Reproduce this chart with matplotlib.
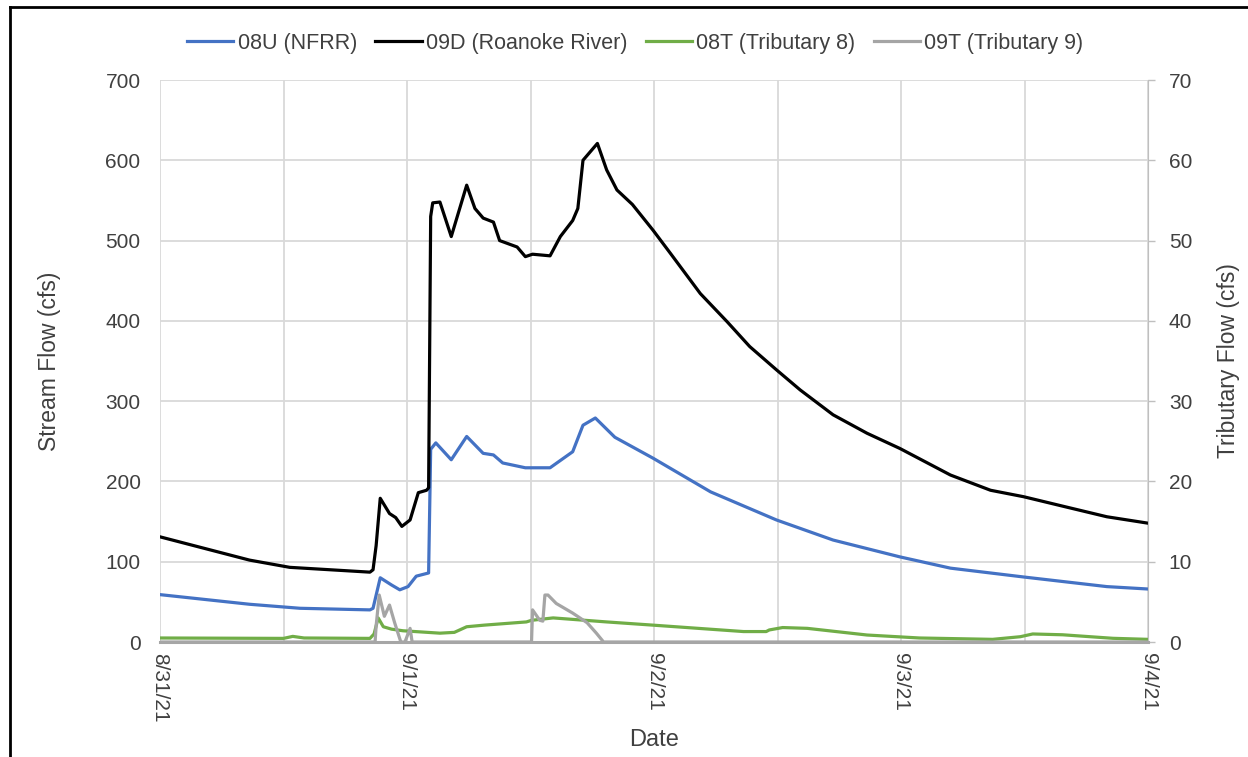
import matplotlib
matplotlib.use("Agg")
import matplotlib.pyplot as plt
from matplotlib.lines import Line2D
from matplotlib.ticker import MultipleLocator

plt.rcParams['font.family'] = ['Liberation Sans', 'DejaVu Sans']

# hours after 8/31/21 00:00 and flows
hrs_09d = [0, 3.9, 8.7, 12.6, 16.5, 20.4, 20.7, 21.0, 21.4, 22.3, 22.9, 23.5, 24.3, 25.1,
           25.9, 26.1, 26.3, 26.5, 27.2, 28.3, 29.8, 30.6, 31.4, 32.4, 33.0, 34.7, 35.5,
           36.2, 37.9, 38.9, 40.1, 40.6, 41.1, 42.1, 42.5, 43.4, 44.4, 45.9, 47.9, 49.6,
           52.5, 55.1, 57.3, 59.9, 62.2, 65.4, 68.7, 71.9, 76.8, 80.7, 83.9, 88.1, 92.0, 96]
flow_09d = [131, 118, 102, 93, 90, 87, 90, 120, 179, 160, 155, 144, 152, 186,
            189, 192, 530, 547, 548, 505, 569, 540, 528, 523, 500, 492, 480,
            483, 481, 505, 525, 540, 600, 615, 621, 588, 563, 545, 513, 484,
            434, 399, 368, 339, 314, 283, 260, 241, 208, 189, 181, 168, 156, 148]

hrs_08u = [0, 8.7, 13.6, 20.4, 20.7, 21.4, 22.5, 23.3, 24.1, 24.9, 25.8, 26.1, 26.3,
           26.8, 28.3, 29.8, 31.4, 32.4, 33.3, 35.5, 37.9, 40.1, 41.1, 42.3, 44.2,
           47.9, 53.5, 59.9, 65.4, 71.9, 76.8, 83.9, 92.0, 96]
flow_08u = [59, 47, 42, 40, 42, 80, 71, 65, 69, 82, 85, 86, 240,
            248, 227, 256, 235, 233, 223, 217, 217, 237, 270, 279, 255,
            229, 187, 152, 127, 106, 92, 81, 69, 66]

hrs_08t = [0, 12.0, 12.9, 14.0, 20.4, 20.8, 21.2, 21.7, 22.5, 23.6, 27.2, 28.6, 29.8,
           31.5, 35.6, 36.1, 38.2, 43.4, 47.9, 56.7, 58.9, 59.2, 60.5, 62.9, 68.7,
           73.8, 80.9, 83.6, 84.8, 87.7, 92.6, 96]
flow_08t = [0.5, 0.45, 0.7, 0.5, 0.45, 1.0, 3.0, 1.9, 1.6, 1.4, 1.1, 1.2, 1.9,
            2.1, 2.5, 2.7, 3.0, 2.5, 2.1, 1.3, 1.3, 1.5, 1.8, 1.7, 0.87,
            0.5, 0.33, 0.66, 1.0, 0.9, 0.46, 0.33]

hrs_09t = [0, 20.9, 21.0, 21.3, 21.8, 22.3, 22.8, 23.4, 23.8, 24.3, 24.5, 36.1, 36.2,
           36.9, 37.2, 37.4, 37.7, 38.5, 40.1, 41.5, 42.4, 43.1, 96]
flow_09t = [0, 0, 2.0, 5.85, 3.2, 4.6, 2.4, 0, 0, 1.7, 0, 0, 4.0,
            2.7, 2.6, 5.85, 5.85, 4.8, 3.6, 2.4, 1.1, 0, 0]

day_labels = ['8/31/21', '9/1/21', '9/2/21', '9/3/21', '9/4/21']

grid_c = '#d9d9d9'
fig = plt.figure(figsize=(12.48, 7.57), dpi=100)
ax = fig.add_axes([160/1248, 1-642/757, 988/1248, 562/757])
ax2 = ax.twinx()

l1, = ax.plot(hrs_08u, flow_08u, color='#4472C4', lw=2.3, label='08U (NFRR)')
l2, = ax.plot(hrs_09d, flow_09d, color='black', lw=2.3, label='09D (Roanoke River)')
l3, = ax2.plot(hrs_08t, flow_08t, color='#70AD47', lw=2.3, label='08T (Tributary 8)')
l4, = ax2.plot(hrs_09t, flow_09t, color='#A5A5A5', lw=2.3, label='09T (Tributary 9)')

ax.set_xlim(0, 96)
ax.set_ylim(0, 700)
ax2.set_ylim(0, 70)
ax.yaxis.set_major_locator(MultipleLocator(100))
ax2.yaxis.set_major_locator(MultipleLocator(10))
ax.set_xticks([0, 24, 48, 72, 96])
ax.set_xticklabels(day_labels, rotation=-90, fontsize=15, color='#404040')
ax.xaxis.set_minor_locator(MultipleLocator(12))
ax.grid(True, which='both', color=grid_c, lw=1.3)
ax.set_axisbelow(True)

ax.tick_params(axis='y', length=0, labelsize=15, labelcolor='#404040', pad=14)
ax.tick_params(axis='x', which='both', length=0, pad=8)
ax2.tick_params(axis='y', length=5, width=1, color='#bfbfbf', labelsize=15,
                labelcolor='#404040', pad=10)

for a in (ax, ax2):
    for s in a.spines.values():
        s.set_visible(False)
ax2.spines['right'].set_visible(True)
ax2.spines['right'].set_color('#bfbfbf')
ax2.spines['bottom'].set_visible(True)
ax2.spines['bottom'].set_color('#a6a6a6')
ax2.spines['bottom'].set_linewidth(2.2)

ax.set_ylabel('Stream Flow (cfs)', fontsize=16.5, color='#404040')
ax.yaxis.set_label_coords(-0.1, 0.5)
ax2.set_ylabel('Tributary Flow (cfs)', fontsize=16.5, color='#404040', rotation=90)
ax2.yaxis.set_label_coords(1.07, 0.5)
ax.set_xlabel('Date', fontsize=17, color='#404040')
ax.xaxis.set_label_coords(0.5, -0.155)

fig.legend(handles=[l1, l2, l3, l4], loc='center', bbox_to_anchor=(0.509, 0.943),
           ncol=4, frameon=False, fontsize=15.5, handlelength=2.15, handletextpad=0.2,
           columnspacing=0.85, labelcolor='#404040')

# outer frame of the exported chart
fig.add_artist(Line2D([10/1248, 10/1248], [0, 1-7/757], color='black', lw=2))
fig.add_artist(Line2D([10/1248, 1], [1-7/757, 1-7/757], color='black', lw=2))

fig.savefig('out.png', dpi=100)
